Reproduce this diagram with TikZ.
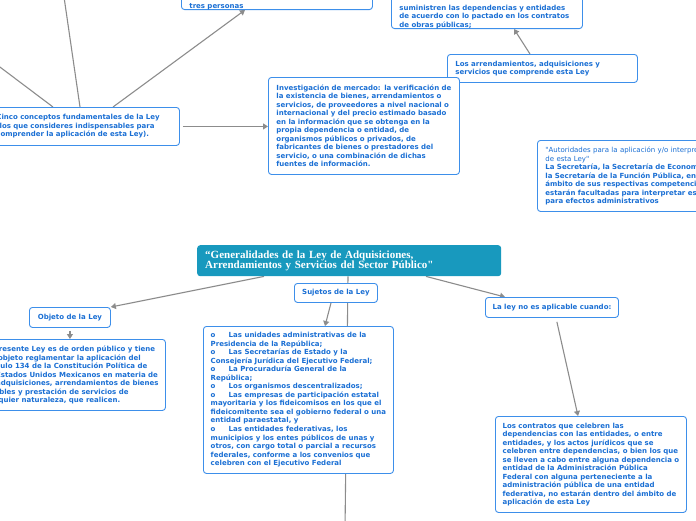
\documentclass[tikz,border=0pt]{standalone}
\usepackage{fontspec}
\usepackage{tikz}
\usetikzlibrary{arrows.meta,positioning,calc,backgrounds}
\newfontfamily\verdfont{DejaVu Sans}
\newfontfamily\titlefont{Liberation Serif}
\definecolor{txtblue}{HTML}{1A6FD4}
\definecolor{edgeblue}{HTML}{3D8FEA}
\definecolor{linkgray}{HTML}{8C8C8C}
\definecolor{topicteal}{HTML}{1899BE}
\tikzset{
  topic/.style={draw=edgeblue,line width=0.9pt,rounded corners=3pt,fill=white,text=txtblue,
    font=\verdfont\bfseries\fontsize{7}{8.5}\selectfont,align=left,inner xsep=8pt,inner ysep=0pt,
    anchor=north west},
  longtxt/.style={topic,inner xsep=6pt},
  tagbox/.style={topic,align=center,inner xsep=2pt},
  central/.style={fill=topicteal,rounded corners=3pt,text=white,align=left,inner xsep=8pt,
    font=\titlefont\bfseries\fontsize{11}{10.5}\selectfont,anchor=north west},
  link/.style={draw=linkgray,line width=1.1pt},
  arr/.style={link,-{Triangle[length=5pt,width=6pt]}}
}
\newcommand{\bul}{\makebox[18pt][l]{o}}

\begin{document}
\begin{tikzpicture}[x=1pt,y=-1pt]
 \useasboundingbox (0,0) rectangle (696,520);
 \clip (0,0) rectangle (696,520);
 \node[topic,text width=175pt,anchor=south west] (pers) at (181,10) {\rule{0pt}{30pt}tres personas};
 \node[topic,text width=175pt,anchor=south west] (obras) at (391,29) {\rule{0pt}{30pt}suministren las dependencias y entidades\\
   de acuerdo con lo pactado en los contratos\\de obras públicas;};
 \node[topic,text width=174pt,minimum height=28pt] (arrend) at (447,54) {Los arrendamientos, adquisiciones y\\
   servicios que comprende esta Ley};
 \node[topic,text width=175pt,minimum height=38pt] (cinco) at (-12,107) {Cinco conceptos fundamentales de la Ley\\
   (los que consideres indispensables para\\comprender la aplicación de esta Ley).};
 \node[topic,text width=175pt,minimum height=97pt] (merc) at (268,77) {Investigación de mercado: la verificación de\\
   la existencia de bienes, arrendamientos o\\servicios, de proveedores a nivel nacional o\\
   internacional y del precio estimado basado\\en la información que se obtenga en la\\
   propia dependencia o entidad, de\\organismos públicos o privados, de\\
   fabricantes de bienes o prestadores del\\servicio, o una combinación de dichas\\
   fuentes de información.};
 \node[topic,text width=195pt,minimum height=71pt] (autor) at (537,140) {\mdseries"Autoridades para la aplicación y/o interpretación\\
   de esta Ley"\\\bfseries La Secretaría, la Secretaría de Economía y\\
   la Secretaría de la Función Pública, en el\\ámbito de sus respectivas competencias,\\
   estarán facultadas para interpretar esta Ley\\para efectos administrativos};
 \node[central,text width=288pt,minimum height=31pt] (gral) at (197,245) {“Generalidades de la Ley de Adquisiciones,\\
   Arrendamientos y Servicios del Sector Público"};
 \node[tagbox,minimum width=83pt,minimum height=19pt] (suj) at (294,283) {Sujetos de la Ley};
 \node[tagbox,minimum width=81pt,minimum height=20pt] (obj) at (29,307) {Objeto de la Ley};
 \node[tagbox,minimum width=133pt,minimum height=20pt] (noap) at (485,297) {La ley no es aplicable cuando:};
 \node[longtxt,minimum width=190pt,minimum height=71pt] (objtxt) at (-25,339) {La presente Ley es de orden público y tiene\\
   por objeto reglamentar la aplicación del\\artículo 134 de la Constitución Política de\\
   los Estados Unidos Mexicanos en materia de\\las adquisiciones, arrendamientos de bienes\\
   muebles y prestación de servicios de\\cualquier naturaleza, que realicen.};
 \node[longtxt,minimum width=190pt,minimum height=147pt] (sujtxt) at (203,326) {\bul Las unidades administrativas de la\\
   Presidencia de la República;\\\bul Las Secretarías de Estado y la\\
   Consejería Jurídica del Ejecutivo Federal;\\\bul La Procuraduría General de la\\
   República;\\\bul Los organismos descentralizados;\\\bul Las empresas de participación estatal\\
   mayoritaria y los fideicomisos en los que el\\fideicomitente sea el gobierno federal o una\\
   entidad paraestatal, y\\[0.5pt]\bul Las entidades federativas, los\\
   municipios y los entes públicos de unas y\\otros, con cargo total o parcial a recursos\\
   federales, conforme a los convenios que\\celebren con el Ejecutivo Federal};
 \node[longtxt,minimum width=191pt,minimum height=96pt] (noaptxt) at (495,416) {Los contratos que celebren las\\
   dependencias con las entidades, o entre\\entidades, y los actos jurídicos que se\\
   celebren entre dependencias, o bien los que\\se lleven a cabo entre alguna dependencia o\\
   entidad de la Administración Pública\\Federal con alguna perteneciente a la\\
   administración pública de una entidad\\federativa, no estarán dentro del ámbito de\\
   aplicación de esta Ley};
 \coordinate (upA) at (-20,52);
 \coordinate (upB) at (63,-10);
 \coordinate (down) at (345,530);
 \begin{scope}[on background layer]
  \draw[link] ([xshift=65pt]cinco.north west) -- (upA);
  \draw[link] ([xshift=92pt]cinco.north west) -- (upB);
  \draw[arr] ([xshift=125pt]cinco.north west) -- ([xshift=64pt]pers.south west);
  \draw[arr,shorten <=3pt] (cinco.east) -- (cinco.east -| merc.west);
  \draw[arr] ([xshift=83pt]arrend.north west) -- ([xshift=123pt]obras.south west);
  \draw[link] ([xshift=151pt]gral.south west) -- (down);
  \draw[arr] ([xshift=67pt]gral.south west) -- (obj.north east);
  \draw[arr] ([xshift=229pt]gral.south west) -- ([xshift=20pt]noap.north west);
  \draw[arr] ([xshift=37pt]suj.south west) -- ([xshift=122pt]sujtxt.north west);
  \draw[arr,shorten <=3pt] (obj.south) -- (obj.south |- objtxt.north);
  \draw[arr,shorten <=4pt] ([xshift=71pt]noap.south west) -- ([xshift=83pt]noaptxt.north west);
 \end{scope}
\end{tikzpicture}
\end{document}
